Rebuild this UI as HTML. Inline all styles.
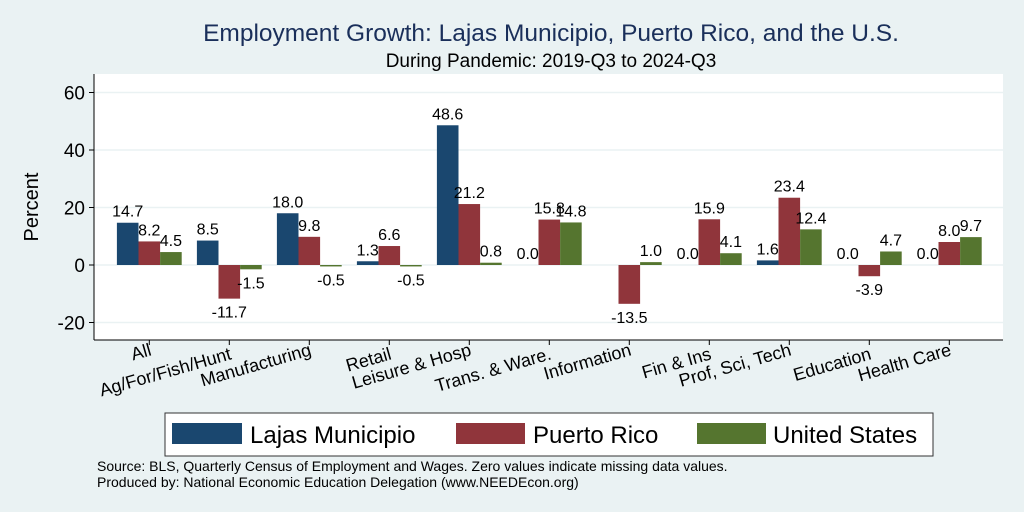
<!DOCTYPE html>
<html><head><meta charset="utf-8"><style>
body{margin:0;background:#eaf2f3;}
svg{display:block;font-family:"Liberation Sans",sans-serif;}
</style></head><body>
<svg id="chart" width="1024" height="512">
<rect x="0" y="0" width="1024" height="512" fill="#eaf2f3"/>
<text x="551" y="41" text-anchor="middle" font-size="24.5" fill="#1a2f5a">Employment Growth: Lajas Municipio, Puerto Rico, and the U.S.</text>
<text x="551" y="67" text-anchor="middle" font-size="19" fill="#000">During Pandemic: 2019-Q3 to 2024-Q3</text>
<rect x="94" y="74" width="909" height="266" fill="#fff"/>
<g id="grid"></g>
<g id="bars"></g>
<g id="labels"></g>
<line x1="94" y1="74" x2="94" y2="340" stroke="#000" stroke-width="1"/>
<line x1="94" y1="340" x2="1003" y2="340" stroke="#000" stroke-width="1"/>
<g id="yticks"></g>
<g id="xticks"></g>
<text transform="translate(38,207) rotate(-90)" text-anchor="middle" font-size="20">Percent</text>
<g>
<rect x="165" y="413" width="768" height="43" fill="#fff" stroke="#333" stroke-width="1"/>
<rect x="172" y="423" width="70" height="21" fill="#1a476f"/>
<text x="250" y="443" font-size="24">Lajas Municipio</text>
<rect x="456" y="423" width="69" height="21" fill="#90353b"/>
<text x="533" y="443" font-size="24">Puerto Rico</text>
<rect x="697" y="423" width="69" height="21" fill="#55752f"/>
<text x="773" y="443" font-size="24">United States</text>
</g>
<text x="97" y="471" font-size="14">Source: BLS, Quarterly Census of Employment and Wages. Zero values indicate missing data values.</text>
<text x="97" y="487" font-size="14">Produced by: National Economic Education Delegation (www.NEEDEcon.org)</text>
</svg>
<script>
const categories=["All","Ag/For/Fish/Hunt","Manufacturing","Retail","Leisure & Hosp","Trans. & Ware.","Information","Fin & Ins","Prof, Sci, Tech","Education","Health Care"];
const lajas=[14.7,8.5,18.0,1.3,48.6,0.0,null,0.0,1.6,0.0,0.0];
const puertoRico=[8.2,-11.7,9.8,6.6,21.2,15.8,-13.5,15.9,23.4,-3.9,8.0];
const unitedStates=[4.5,-1.5,-0.5,-0.5,0.8,14.8,1.0,4.1,12.4,4.7,9.7];
const yTicks=[-20,0,20,40,60];
const NS="http://www.w3.org/2000/svg";
function y(v){return 265-v*2.875;}
function groupX(i){return 149.3+i*80;}
const bw=21.6;
function mk(tag,attrs,parent){const e=document.createElementNS(NS,tag);for(const k in attrs)e.setAttribute(k,attrs[k]);document.getElementById(parent).appendChild(e);return e;}
yTicks.forEach(t=>{
  const g=mk("line",{x1:94,x2:1003,y1:y(t),y2:y(t),stroke:"#eaf2f3","stroke-width":1.5},"grid");
  
  
  const tk=mk("line",{x1:89,x2:94,y1:y(t),y2:y(t),stroke:"#000"},"yticks");
  
  
  const tl=mk("text",{x:85,y:y(t)+7,"text-anchor":"end","font-size":19},"yticks");
  tl.textContent=t;
  
  
});
const series=[[lajas,"#1a476f",-1],[puertoRico,"#90353b",0],[unitedStates,"#55752f",1]];
series.forEach(([vals,col,off])=>{
  vals.forEach((v,i)=>{
    if(v===null)return;
    const cx=groupX(i)+off*bw;
    if(v!==0){
      const top=Math.min(y(v),y(0)),h=Math.max(Math.abs(y(v)-y(0)),1);
      const r=mk("rect",{x:cx-bw/2,y:top,width:bw,height:h,fill:col},"bars");
      
      
    }
    const ly=v>=0?y(v)-6:y(v)+19;
    const l=mk("text",{x:cx,y:ly,"text-anchor":"middle","font-size":16},"labels");
    l.textContent=v.toFixed(1);
    
    
  });
});
categories.forEach((c,i)=>{
  const gx=groupX(i);
  const tk=mk("line",{x1:gx,x2:gx,y1:340,y2:345,stroke:"#000"},"xticks");
  
  
  const ty=i%2===0?355:359;
  const t=mk("text",{x:gx+3,y:ty,"text-anchor":"end","font-size":18,transform:`rotate(-16 ${gx+3} ${ty})`},"xticks");
  t.textContent=c;
  
  
});
</script>
</body></html>
